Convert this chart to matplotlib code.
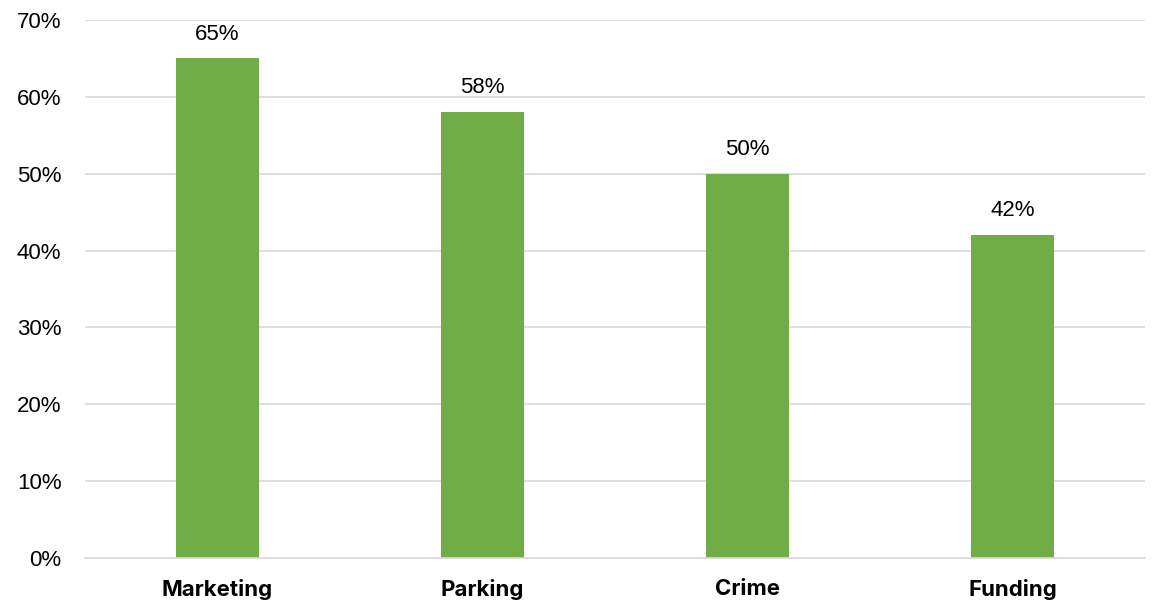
import matplotlib
matplotlib.use("Agg")
import matplotlib.pyplot as plt
from matplotlib.ticker import FuncFormatter

categories = ["Marketing", "Parking", "Crime", "Funding"]
values = [65, 58, 50, 42]
yticks = [0, 10, 20, 30, 40, 50, 60, 70]

plt.rcParams['font.family'] = ['Liberation Sans', 'DejaVu Sans']

fig = plt.figure(figsize=(11.52, 6.02), dpi=100)
ax = fig.add_axes([85/1152, 1-558/602, 1060/1152, 538/602])

x = list(range(len(categories)))
bars = ax.bar(x, values, width=0.31, color="#70AD47", zorder=3)
for xi, v in zip(x, values):
    ax.annotate(f"{v}%", (xi, v), xytext=(0, 10), textcoords="offset points",
                ha="center", va="bottom", fontsize=16, color="#000000")

ax.set_xlim(-0.5, len(categories) - 0.5)
ax.set_ylim(0, 70)
ax.set_yticks(yticks)
ax.yaxis.set_major_formatter(FuncFormatter(lambda v, p: f"{int(v)}%"))
ax.set_xticks(x)
ax.set_xticklabels(categories, fontweight="bold", fontsize=16,
                   family=['Inter', 'DejaVu Sans'])
ax.tick_params(axis="y", length=0, pad=17, labelsize=16)
ax.tick_params(axis="x", length=0, pad=15)
ax.grid(axis="y", color="#D9D9D9", linewidth=1.2, zorder=0)
for s in ["top", "right", "left"]:
    ax.spines[s].set_visible(False)
ax.spines["bottom"].set_color("#D9D9D9")
ax.spines["bottom"].set_linewidth(1.2)
ax.spines["bottom"].set_zorder(4)

fig.savefig("out.png", dpi=100)
